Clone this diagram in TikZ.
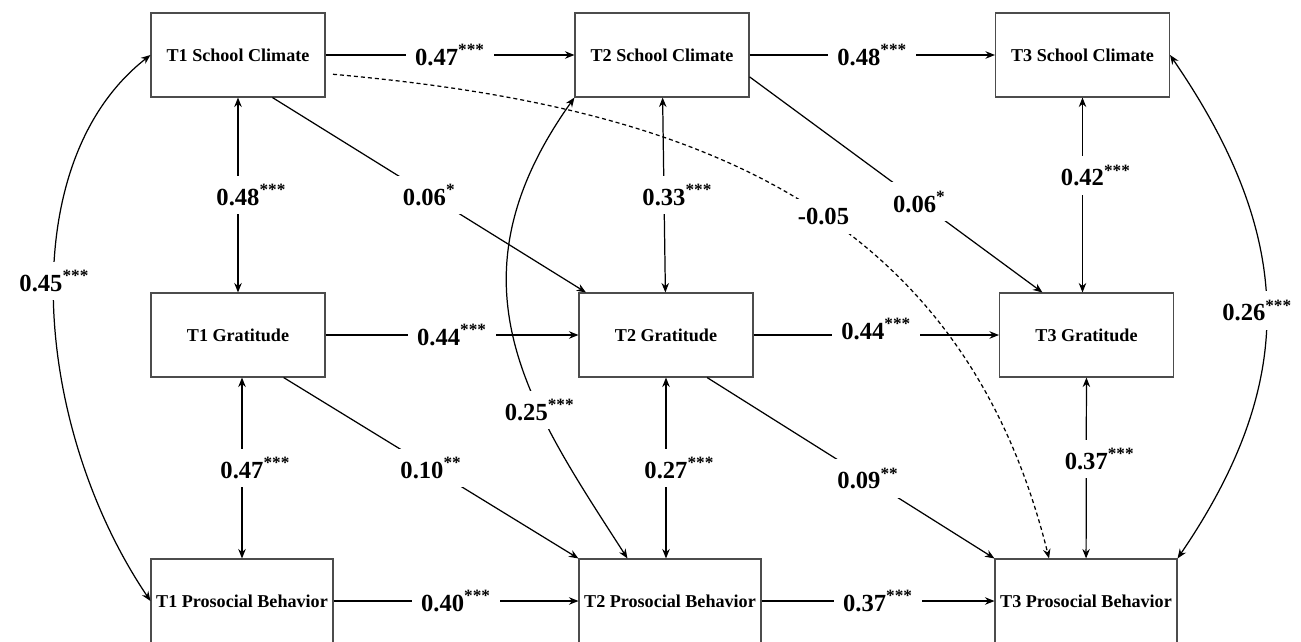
\documentclass[tikz,border=0pt]{standalone}
\usepackage{fontspec}
\setmainfont{Liberation Serif}
\usetikzlibrary{arrows.meta}

\tikzset{
  var/.style={draw=black!70, line width=0.6pt, minimum width=3.48cm, minimum height=1.68cm, inner sep=0pt, font=\bfseries\fontsize{10.3}{12}\selectfont},
  wide/.style={var, minimum width=3.64cm},
  coef/.style={fill=white, inner sep=1.8mm, font=\bfseries\fontsize{14}{16}\selectfont},
  reg/.style={->, line width=0.7pt},
  cov/.style={<->, line width=0.7pt},
}
\newcommand{\sig}[1]{\textsuperscript{#1}}
\newcommand{\vsig}[1]{\rlap{\textsuperscript{#1}}}

\begin{document}
\begin{tikzpicture}[>={Stealth[length=1.9mm,width=1.5mm]}, x=0.2mm, y=-0.2mm]
	\useasboundingbox (0,0) rectangle (1301,641);
	% variables
	\node[var] (sc1) at (238,55) {T1 School Climate};
	\node[var] (sc2) at (662,55) {T2 School Climate};
	\node[var] (sc3) at (1082.5,55) {T3 School Climate};
	\node[var] (g1) at (238,335) {T1 Gratitude};
	\node[var] (g2) at (666,335) {T2 Gratitude};
	\node[var] (g3) at (1086.5,335) {T3 Gratitude};
	\node[wide] (pb1) at (242,601) {T1 Prosocial Behavior};
	\node[wide] (pb2) at (670,601) {T2 Prosocial Behavior};
	\node[wide] (pb3) at (1086,601) {T3 Prosocial Behavior};
	% autoregressive paths
	\draw[reg] (sc1) -- node[coef] {0.47\sig{***}} (sc2);
	\draw[reg] (sc2) -- node[coef] {0.48\sig{***}} (sc3);
	\draw[reg] (g1) -- node[coef] {0.44\sig{***}} (g2);
	\draw[reg] (g2) -- node[coef, yshift=1.2mm] {0.44\sig{***}} (g3);
	\draw[reg] (pb1) -- node[coef] {0.40\sig{***}} (pb2);
	\draw[reg] (pb2) -- node[coef] {0.37\sig{***}} (pb3);
	% cross-lagged paths
	\draw[reg] (sc1.-51) -- node[coef] {0.06\sig{*}} (g2.152);
	\draw[reg] (sc2.-14) -- node[coef, pos=0.58] {0.06\sig{*}} (g3.136);
	\draw[reg] (g1.-43) -- node[coef] {0.10\sig{**}} (pb2.north west);
	\draw[reg] (g2.-46) -- node[coef, pos=0.56] {0.09\sig{**}} (pb3.north west);
	\draw[reg, dash pattern=on 0.8mm off 0.6mm, shorten <=1.5mm] (sc1.-12) .. controls (680,105) and (960,200) .. node[coef, pos=0.55] {-0.05} (pb3.131);
	% correlations
	\draw[cov] (sc1) -- node[coef] {0.48\vsig{***}} (g1);
	\draw[cov] (g1.south -| pb1.north) -- node[coef] {0.47\vsig{***}} (pb1.north);
	\draw[cov] (sc2) -- node[coef] {0.33\vsig{***}} (g2);
	\draw[cov] (g2) -- node[coef] {0.27\vsig{***}} (g2.south |- pb2.north);
	\draw[cov] (sc3) -- node[coef, pos=0.4] {0.42\vsig{***}} (sc3.south |- g3.north);
	\draw[cov] (g3) -- node[coef, pos=0.45] {0.37\vsig{***}} (pb3);
	\draw[cov] (pb2.135) .. controls (530,407) and (442,283) .. node[coef, pos=0.34] {0.25\sig{***}} (sc2.south west);
	\draw[cov] (sc1.west) .. controls (10,165) and (35,430) .. node[coef, pos=0.46] {0.45\sig{***}} (pb1.west);
	\draw[cov] (pb3.north east) .. controls (1297,383) and (1297,240) .. node[coef, pos=0.5, xshift=-1.8mm] {0.26\sig{***}} (sc3.east);
\end{tikzpicture}
\end{document}
